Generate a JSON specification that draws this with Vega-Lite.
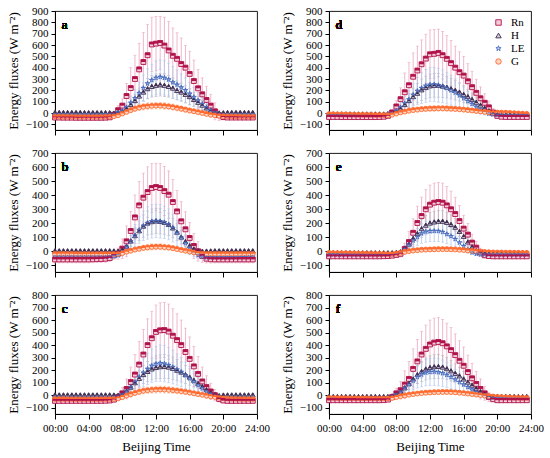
{
  "$schema": "https://vega.github.io/schema/vega-lite/v6.json",
  "background": "white",
  "padding": {"left": 6, "top": 4, "right": 5, "bottom": 5},
  "config": {
    "font": "Liberation Serif",
    "view": {"stroke": "black", "strokeWidth": 0.9},
    "text": {"font": "Liberation Serif"},
    "axis": {"grid": false, "domainColor": "black", "tickColor": "black", "labelColor": "black", "titleColor": "black", "labelFont": "Liberation Serif", "titleFont": "Liberation Serif", "labelFontSize": 11, "titleFontSize": 13, "titleFontWeight": "normal", "labelFontWeight": "normal", "tickSize": 4, "labelPadding": 3, "labelOverlap": false, "labelFlush": false},
    "axisY": {"titlePadding": 5, "labelOverlap": false, "tickCount": 20},
    "legend": {"labelFont": "Liberation Serif", "labelFontSize": 11, "symbolSize": 30, "padding": 0, "offset": 6, "rowPadding": 1, "labelOffset": 7, "symbolStrokeWidth": 0.9}
  },
  "datasets": {
    "a": [
      {"t":0,"Rn":-40,"Rs":15,"H":5,"Hs":8,"LE":-15,"Ls":10,"G":-30,"Gs":10},
      {"t":0.5,"Rn":-40,"Rs":15,"H":5,"Hs":8,"LE":-15,"Ls":10,"G":-30,"Gs":10},
      {"t":1,"Rn":-41,"Rs":15,"H":5,"Hs":8,"LE":-15,"Ls":10,"G":-31,"Gs":10},
      {"t":1.5,"Rn":-41,"Rs":15,"H":5,"Hs":8,"LE":-15,"Ls":10,"G":-31,"Gs":10},
      {"t":2,"Rn":-41,"Rs":15,"H":5,"Hs":8,"LE":-15,"Ls":10,"G":-31,"Gs":10},
      {"t":2.5,"Rn":-42,"Rs":15,"H":5,"Hs":8,"LE":-16,"Ls":10,"G":-32,"Gs":10},
      {"t":3,"Rn":-42,"Rs":15,"H":5,"Hs":8,"LE":-16,"Ls":10,"G":-32,"Gs":10},
      {"t":3.5,"Rn":-42,"Rs":15,"H":4,"Hs":8,"LE":-16,"Ls":10,"G":-32,"Gs":10},
      {"t":4,"Rn":-42,"Rs":15,"H":4,"Hs":8,"LE":-16,"Ls":10,"G":-32,"Gs":10},
      {"t":4.5,"Rn":-42,"Rs":15,"H":4,"Hs":8,"LE":-16,"Ls":10,"G":-32,"Gs":10},
      {"t":5,"Rn":-42,"Rs":15,"H":4,"Hs":8,"LE":-16,"Ls":10,"G":-32,"Gs":10},
      {"t":5.5,"Rn":-42,"Rs":15,"H":4,"Hs":8,"LE":-16,"Ls":10,"G":-32,"Gs":10},
      {"t":6,"Rn":-41,"Rs":16,"H":4,"Hs":8,"LE":-15,"Ls":10,"G":-31,"Gs":10},
      {"t":6.5,"Rn":-38,"Rs":18,"H":3,"Hs":8,"LE":-14,"Ls":10,"G":-30,"Gs":10},
      {"t":7,"Rn":-15,"Rs":25,"H":0,"Hs":10,"LE":-10,"Ls":12,"G":-28,"Gs":10},
      {"t":7.5,"Rn":25,"Rs":40,"H":5,"Hs":14,"LE":5,"Ls":15,"G":-20,"Gs":12},
      {"t":8,"Rn":65,"Rs":60,"H":15,"Hs":20,"LE":20,"Ls":25,"G":-5,"Gs":15},
      {"t":8.5,"Rn":150,"Rs":110,"H":40,"Hs":30,"LE":50,"Ls":40,"G":10,"Gs":18},
      {"t":9,"Rn":220,"Rs":180,"H":75,"Hs":45,"LE":90,"Ls":60,"G":25,"Gs":22},
      {"t":9.5,"Rn":300,"Rs":210,"H":110,"Hs":55,"LE":130,"Ls":80,"G":38,"Gs":25},
      {"t":10,"Rn":385,"Rs":230,"H":150,"Hs":70,"LE":175,"Ls":100,"G":48,"Gs":28},
      {"t":10.5,"Rn":450,"Rs":260,"H":185,"Hs":80,"LE":220,"Ls":115,"G":55,"Gs":29},
      {"t":11,"Rn":510,"Rs":270,"H":215,"Hs":90,"LE":260,"Ls":130,"G":60,"Gs":30},
      {"t":11.5,"Rn":605,"Rs":240,"H":235,"Hs":95,"LE":290,"Ls":140,"G":63,"Gs":30},
      {"t":12,"Rn":612,"Rs":240,"H":245,"Hs":100,"LE":310,"Ls":150,"G":65,"Gs":30},
      {"t":12.5,"Rn":618,"Rs":235,"H":250,"Hs":100,"LE":318,"Ls":150,"G":65,"Gs":30},
      {"t":13,"Rn":595,"Rs":250,"H":245,"Hs":100,"LE":310,"Ls":150,"G":62,"Gs":30},
      {"t":13.5,"Rn":552,"Rs":255,"H":235,"Hs":95,"LE":295,"Ls":145,"G":58,"Gs":29},
      {"t":14,"Rn":505,"Rs":245,"H":220,"Hs":90,"LE":270,"Ls":140,"G":52,"Gs":28},
      {"t":14.5,"Rn":478,"Rs":230,"H":200,"Hs":85,"LE":250,"Ls":130,"G":45,"Gs":27},
      {"t":15,"Rn":432,"Rs":230,"H":185,"Hs":80,"LE":225,"Ls":120,"G":38,"Gs":25},
      {"t":15.5,"Rn":400,"Rs":195,"H":165,"Hs":75,"LE":200,"Ls":110,"G":30,"Gs":24},
      {"t":16,"Rn":345,"Rs":200,"H":145,"Hs":70,"LE":170,"Ls":100,"G":22,"Gs":22},
      {"t":16.5,"Rn":282,"Rs":185,"H":120,"Hs":60,"LE":140,"Ls":85,"G":15,"Gs":20},
      {"t":17,"Rn":218,"Rs":165,"H":95,"Hs":50,"LE":110,"Ls":70,"G":8,"Gs":18},
      {"t":17.5,"Rn":165,"Rs":145,"H":70,"Hs":40,"LE":80,"Ls":55,"G":0,"Gs":17},
      {"t":18,"Rn":115,"Rs":120,"H":45,"Hs":30,"LE":50,"Ls":40,"G":-8,"Gs":15},
      {"t":18.5,"Rn":65,"Rs":100,"H":25,"Hs":25,"LE":25,"Ls":30,"G":-15,"Gs":13},
      {"t":19,"Rn":15,"Rs":75,"H":8,"Hs":15,"LE":5,"Ls":20,"G":-20,"Gs":12},
      {"t":19.5,"Rn":-20,"Rs":45,"H":0,"Hs":10,"LE":-10,"Ls":12,"G":-24,"Gs":11},
      {"t":20,"Rn":-36,"Rs":25,"H":3,"Hs":8,"LE":-14,"Ls":10,"G":-27,"Gs":10},
      {"t":20.5,"Rn":-40,"Rs":18,"H":5,"Hs":8,"LE":-15,"Ls":10,"G":-28,"Gs":10},
      {"t":21,"Rn":-40,"Rs":15,"H":5,"Hs":8,"LE":-15,"Ls":10,"G":-29,"Gs":10},
      {"t":21.5,"Rn":-40,"Rs":15,"H":5,"Hs":8,"LE":-15,"Ls":10,"G":-29,"Gs":10},
      {"t":22,"Rn":-40,"Rs":15,"H":5,"Hs":8,"LE":-15,"Ls":10,"G":-30,"Gs":10},
      {"t":22.5,"Rn":-40,"Rs":15,"H":5,"Hs":8,"LE":-15,"Ls":10,"G":-30,"Gs":10},
      {"t":23,"Rn":-40,"Rs":15,"H":5,"Hs":8,"LE":-15,"Ls":10,"G":-30,"Gs":10},
      {"t":23.5,"Rn":-40,"Rs":15,"H":5,"Hs":8,"LE":-15,"Ls":10,"G":-30,"Gs":10}
    ],
    "d": [
      {"t":0,"Rn":-35,"Rs":12,"H":-8,"Hs":8,"LE":-15,"Ls":10,"G":-10,"Gs":8},
      {"t":0.5,"Rn":-35,"Rs":12,"H":-8,"Hs":8,"LE":-15,"Ls":10,"G":-11,"Gs":8},
      {"t":1,"Rn":-35,"Rs":12,"H":-8,"Hs":8,"LE":-15,"Ls":10,"G":-12,"Gs":8},
      {"t":1.5,"Rn":-36,"Rs":12,"H":-8,"Hs":8,"LE":-15,"Ls":10,"G":-12,"Gs":8},
      {"t":2,"Rn":-36,"Rs":12,"H":-8,"Hs":8,"LE":-15,"Ls":10,"G":-13,"Gs":8},
      {"t":2.5,"Rn":-36,"Rs":12,"H":-8,"Hs":8,"LE":-16,"Ls":10,"G":-14,"Gs":8},
      {"t":3,"Rn":-36,"Rs":12,"H":-8,"Hs":8,"LE":-16,"Ls":10,"G":-14,"Gs":8},
      {"t":3.5,"Rn":-36,"Rs":12,"H":-8,"Hs":8,"LE":-16,"Ls":10,"G":-15,"Gs":8},
      {"t":4,"Rn":-36,"Rs":12,"H":-8,"Hs":8,"LE":-16,"Ls":10,"G":-15,"Gs":8},
      {"t":4.5,"Rn":-36,"Rs":12,"H":-8,"Hs":8,"LE":-16,"Ls":10,"G":-16,"Gs":8},
      {"t":5,"Rn":-36,"Rs":12,"H":-8,"Hs":8,"LE":-16,"Ls":10,"G":-16,"Gs":8},
      {"t":5.5,"Rn":-36,"Rs":12,"H":-8,"Hs":8,"LE":-16,"Ls":10,"G":-17,"Gs":8},
      {"t":6,"Rn":-35,"Rs":13,"H":-8,"Hs":8,"LE":-15,"Ls":10,"G":-17,"Gs":8},
      {"t":6.5,"Rn":-33,"Rs":15,"H":-8,"Hs":8,"LE":-14,"Ls":10,"G":-18,"Gs":8},
      {"t":7,"Rn":-25,"Rs":18,"H":-6,"Hs":9,"LE":-8,"Ls":11,"G":-18,"Gs":8},
      {"t":7.5,"Rn":5,"Rs":25,"H":0,"Hs":12,"LE":0,"Ls":14,"G":-15,"Gs":10},
      {"t":8,"Rn":58,"Rs":50,"H":15,"Hs":20,"LE":20,"Ls":25,"G":-5,"Gs":12},
      {"t":8.5,"Rn":122,"Rs":100,"H":40,"Hs":30,"LE":50,"Ls":40,"G":5,"Gs":14},
      {"t":9,"Rn":183,"Rs":170,"H":75,"Hs":45,"LE":85,"Ls":60,"G":12,"Gs":16},
      {"t":9.5,"Rn":245,"Rs":200,"H":110,"Hs":60,"LE":120,"Ls":80,"G":20,"Gs":18},
      {"t":10,"Rn":320,"Rs":210,"H":145,"Hs":75,"LE":160,"Ls":100,"G":26,"Gs":20},
      {"t":10.5,"Rn":375,"Rs":215,"H":175,"Hs":85,"LE":195,"Ls":120,"G":30,"Gs":21},
      {"t":11,"Rn":430,"Rs":215,"H":205,"Hs":95,"LE":220,"Ls":135,"G":34,"Gs":22},
      {"t":11.5,"Rn":480,"Rs":215,"H":225,"Hs":100,"LE":240,"Ls":145,"G":37,"Gs":23},
      {"t":12,"Rn":518,"Rs":215,"H":240,"Hs":105,"LE":250,"Ls":150,"G":39,"Gs":24},
      {"t":12.5,"Rn":522,"Rs":215,"H":245,"Hs":105,"LE":252,"Ls":150,"G":40,"Gs":24},
      {"t":13,"Rn":530,"Rs":210,"H":245,"Hs":105,"LE":245,"Ls":150,"G":41,"Gs":24},
      {"t":13.5,"Rn":510,"Rs":210,"H":238,"Hs":100,"LE":235,"Ls":145,"G":41,"Gs":24},
      {"t":14,"Rn":478,"Rs":205,"H":228,"Hs":95,"LE":220,"Ls":140,"G":40,"Gs":24},
      {"t":14.5,"Rn":440,"Rs":200,"H":215,"Hs":90,"LE":200,"Ls":130,"G":38,"Gs":23},
      {"t":15,"Rn":400,"Rs":190,"H":200,"Hs":85,"LE":180,"Ls":120,"G":36,"Gs":22},
      {"t":15.5,"Rn":360,"Rs":180,"H":185,"Hs":80,"LE":155,"Ls":110,"G":33,"Gs":21},
      {"t":16,"Rn":330,"Rs":170,"H":165,"Hs":75,"LE":130,"Ls":100,"G":30,"Gs":20},
      {"t":16.5,"Rn":280,"Rs":155,"H":145,"Hs":65,"LE":105,"Ls":85,"G":26,"Gs":19},
      {"t":17,"Rn":228,"Rs":140,"H":120,"Hs":55,"LE":80,"Ls":70,"G":22,"Gs":18},
      {"t":17.5,"Rn":178,"Rs":120,"H":95,"Hs":45,"LE":55,"Ls":55,"G":18,"Gs":16},
      {"t":18,"Rn":130,"Rs":100,"H":70,"Hs":35,"LE":30,"Ls":40,"G":14,"Gs":14},
      {"t":18.5,"Rn":90,"Rs":80,"H":45,"Hs":28,"LE":10,"Ls":28,"G":10,"Gs":12},
      {"t":19,"Rn":50,"Rs":55,"H":20,"Hs":20,"LE":-5,"Ls":18,"G":6,"Gs":11},
      {"t":19.5,"Rn":5,"Rs":35,"H":0,"Hs":12,"LE":-12,"Ls":12,"G":4,"Gs":10},
      {"t":20,"Rn":-25,"Rs":20,"H":-8,"Hs":9,"LE":-15,"Ls":10,"G":4,"Gs":9},
      {"t":20.5,"Rn":-33,"Rs":14,"H":-8,"Hs":8,"LE":-15,"Ls":10,"G":3,"Gs":8},
      {"t":21,"Rn":-35,"Rs":12,"H":-8,"Hs":8,"LE":-15,"Ls":10,"G":2,"Gs":8},
      {"t":21.5,"Rn":-35,"Rs":12,"H":-8,"Hs":8,"LE":-15,"Ls":10,"G":0,"Gs":8},
      {"t":22,"Rn":-35,"Rs":12,"H":-8,"Hs":8,"LE":-15,"Ls":10,"G":-2,"Gs":8},
      {"t":22.5,"Rn":-35,"Rs":12,"H":-8,"Hs":8,"LE":-15,"Ls":10,"G":-4,"Gs":8},
      {"t":23,"Rn":-35,"Rs":12,"H":-8,"Hs":8,"LE":-15,"Ls":10,"G":-6,"Gs":8},
      {"t":23.5,"Rn":-35,"Rs":12,"H":-8,"Hs":8,"LE":-15,"Ls":10,"G":-8,"Gs":8}
    ],
    "b": [
      {"t":0,"Rn":-60,"Rs":25,"H":2,"Hs":8,"LE":-40,"Ls":12,"G":-20,"Gs":8},
      {"t":0.5,"Rn":-60,"Rs":25,"H":2,"Hs":8,"LE":-40,"Ls":12,"G":-20,"Gs":8},
      {"t":1,"Rn":-60,"Rs":25,"H":2,"Hs":8,"LE":-40,"Ls":12,"G":-20,"Gs":8},
      {"t":1.5,"Rn":-60,"Rs":25,"H":2,"Hs":8,"LE":-40,"Ls":12,"G":-20,"Gs":8},
      {"t":2,"Rn":-60,"Rs":25,"H":2,"Hs":8,"LE":-40,"Ls":12,"G":-20,"Gs":8},
      {"t":2.5,"Rn":-60,"Rs":25,"H":2,"Hs":8,"LE":-40,"Ls":12,"G":-21,"Gs":8},
      {"t":3,"Rn":-60,"Rs":25,"H":2,"Hs":8,"LE":-40,"Ls":12,"G":-21,"Gs":8},
      {"t":3.5,"Rn":-60,"Rs":25,"H":2,"Hs":8,"LE":-40,"Ls":12,"G":-21,"Gs":8},
      {"t":4,"Rn":-60,"Rs":25,"H":2,"Hs":8,"LE":-40,"Ls":12,"G":-21,"Gs":8},
      {"t":4.5,"Rn":-59,"Rs":25,"H":2,"Hs":8,"LE":-40,"Ls":12,"G":-21,"Gs":8},
      {"t":5,"Rn":-58,"Rs":25,"H":2,"Hs":8,"LE":-40,"Ls":12,"G":-21,"Gs":8},
      {"t":5.5,"Rn":-57,"Rs":25,"H":2,"Hs":8,"LE":-40,"Ls":12,"G":-21,"Gs":8},
      {"t":6,"Rn":-55,"Rs":25,"H":2,"Hs":8,"LE":-40,"Ls":12,"G":-21,"Gs":8},
      {"t":6.5,"Rn":-50,"Rs":25,"H":2,"Hs":8,"LE":-39,"Ls":12,"G":-21,"Gs":8},
      {"t":7,"Rn":-31,"Rs":28,"H":1,"Hs":9,"LE":-36,"Ls":13,"G":-21,"Gs":8},
      {"t":7.5,"Rn":-19,"Rs":40,"H":0,"Hs":10,"LE":-30,"Ls":15,"G":-20,"Gs":9},
      {"t":8,"Rn":17,"Rs":70,"H":10,"Hs":15,"LE":-10,"Ls":25,"G":-15,"Gs":10},
      {"t":8.5,"Rn":69,"Rs":110,"H":35,"Hs":25,"LE":30,"Ls":40,"G":-5,"Gs":12},
      {"t":9,"Rn":143,"Rs":140,"H":72,"Hs":40,"LE":70,"Ls":60,"G":2,"Gs":14},
      {"t":9.5,"Rn":240,"Rs":160,"H":110,"Hs":55,"LE":110,"Ls":80,"G":10,"Gs":16},
      {"t":10,"Rn":326,"Rs":170,"H":145,"Hs":70,"LE":150,"Ls":95,"G":16,"Gs":18},
      {"t":10.5,"Rn":381,"Rs":175,"H":178,"Hs":80,"LE":180,"Ls":105,"G":22,"Gs":20},
      {"t":11,"Rn":421,"Rs":180,"H":200,"Hs":85,"LE":200,"Ls":115,"G":26,"Gs":21},
      {"t":11.5,"Rn":450,"Rs":175,"H":210,"Hs":90,"LE":212,"Ls":120,"G":29,"Gs":22},
      {"t":12,"Rn":457,"Rs":170,"H":215,"Hs":90,"LE":215,"Ls":120,"G":30,"Gs":22},
      {"t":12.5,"Rn":450,"Rs":175,"H":212,"Hs":90,"LE":212,"Ls":120,"G":30,"Gs":22},
      {"t":13,"Rn":428,"Rs":175,"H":205,"Hs":85,"LE":205,"Ls":115,"G":28,"Gs":21},
      {"t":13.5,"Rn":402,"Rs":170,"H":190,"Hs":80,"LE":190,"Ls":110,"G":25,"Gs":20},
      {"t":14,"Rn":350,"Rs":160,"H":165,"Hs":70,"LE":165,"Ls":100,"G":20,"Gs":19},
      {"t":14.5,"Rn":283,"Rs":150,"H":135,"Hs":60,"LE":130,"Ls":90,"G":14,"Gs":17},
      {"t":15,"Rn":212,"Rs":140,"H":100,"Hs":50,"LE":95,"Ls":75,"G":8,"Gs":15},
      {"t":15.5,"Rn":155,"Rs":125,"H":68,"Hs":40,"LE":55,"Ls":60,"G":2,"Gs":13},
      {"t":16,"Rn":93,"Rs":110,"H":38,"Hs":30,"LE":20,"Ls":45,"G":-4,"Gs":12},
      {"t":16.5,"Rn":36,"Rs":90,"H":15,"Hs":20,"LE":-10,"Ls":30,"G":-10,"Gs":10},
      {"t":17,"Rn":-2,"Rs":70,"H":2,"Hs":12,"LE":-30,"Ls":20,"G":-15,"Gs":9},
      {"t":17.5,"Rn":-36,"Rs":45,"H":-2,"Hs":10,"LE":-40,"Ls":15,"G":-18,"Gs":8},
      {"t":18,"Rn":-55,"Rs":30,"H":0,"Hs":8,"LE":-45,"Ls":13,"G":-20,"Gs":8},
      {"t":18.5,"Rn":-59,"Rs":27,"H":1,"Hs":8,"LE":-45,"Ls":12,"G":-20,"Gs":8},
      {"t":19,"Rn":-60,"Rs":25,"H":2,"Hs":8,"LE":-45,"Ls":12,"G":-20,"Gs":8},
      {"t":19.5,"Rn":-60,"Rs":25,"H":2,"Hs":8,"LE":-45,"Ls":12,"G":-20,"Gs":8},
      {"t":20,"Rn":-60,"Rs":25,"H":2,"Hs":8,"LE":-45,"Ls":12,"G":-20,"Gs":8},
      {"t":20.5,"Rn":-60,"Rs":25,"H":2,"Hs":8,"LE":-45,"Ls":12,"G":-20,"Gs":8},
      {"t":21,"Rn":-60,"Rs":25,"H":2,"Hs":8,"LE":-45,"Ls":12,"G":-20,"Gs":8},
      {"t":21.5,"Rn":-60,"Rs":25,"H":2,"Hs":8,"LE":-44,"Ls":12,"G":-20,"Gs":8},
      {"t":22,"Rn":-60,"Rs":25,"H":2,"Hs":8,"LE":-43,"Ls":12,"G":-20,"Gs":8},
      {"t":22.5,"Rn":-60,"Rs":25,"H":2,"Hs":8,"LE":-42,"Ls":12,"G":-20,"Gs":8},
      {"t":23,"Rn":-60,"Rs":25,"H":2,"Hs":8,"LE":-41,"Ls":12,"G":-20,"Gs":8},
      {"t":23.5,"Rn":-60,"Rs":25,"H":2,"Hs":8,"LE":-40,"Ls":12,"G":-20,"Gs":8}
    ],
    "e": [
      {"t":0,"Rn":-38,"Rs":12,"H":-12,"Hs":8,"LE":-25,"Ls":10,"G":-14,"Gs":8},
      {"t":0.5,"Rn":-38,"Rs":12,"H":-12,"Hs":8,"LE":-25,"Ls":10,"G":-15,"Gs":8},
      {"t":1,"Rn":-38,"Rs":12,"H":-12,"Hs":8,"LE":-25,"Ls":10,"G":-15,"Gs":8},
      {"t":1.5,"Rn":-38,"Rs":12,"H":-12,"Hs":8,"LE":-25,"Ls":10,"G":-16,"Gs":8},
      {"t":2,"Rn":-38,"Rs":12,"H":-12,"Hs":8,"LE":-25,"Ls":10,"G":-16,"Gs":8},
      {"t":2.5,"Rn":-38,"Rs":12,"H":-12,"Hs":8,"LE":-25,"Ls":10,"G":-17,"Gs":8},
      {"t":3,"Rn":-38,"Rs":12,"H":-12,"Hs":8,"LE":-25,"Ls":10,"G":-17,"Gs":8},
      {"t":3.5,"Rn":-38,"Rs":12,"H":-12,"Hs":8,"LE":-25,"Ls":10,"G":-18,"Gs":8},
      {"t":4,"Rn":-38,"Rs":12,"H":-12,"Hs":8,"LE":-25,"Ls":10,"G":-18,"Gs":8},
      {"t":4.5,"Rn":-38,"Rs":12,"H":-12,"Hs":8,"LE":-25,"Ls":10,"G":-19,"Gs":8},
      {"t":5,"Rn":-38,"Rs":12,"H":-12,"Hs":8,"LE":-25,"Ls":10,"G":-19,"Gs":8},
      {"t":5.5,"Rn":-38,"Rs":12,"H":-12,"Hs":8,"LE":-25,"Ls":10,"G":-20,"Gs":8},
      {"t":6,"Rn":-38,"Rs":12,"H":-12,"Hs":8,"LE":-25,"Ls":10,"G":-20,"Gs":8},
      {"t":6.5,"Rn":-37,"Rs":13,"H":-12,"Hs":8,"LE":-25,"Ls":10,"G":-21,"Gs":8},
      {"t":7,"Rn":-36,"Rs":14,"H":-12,"Hs":8,"LE":-25,"Ls":10,"G":-22,"Gs":8},
      {"t":7.5,"Rn":-33,"Rs":16,"H":-12,"Hs":8,"LE":-24,"Ls":10,"G":-22,"Gs":8},
      {"t":8,"Rn":-28,"Rs":18,"H":-10,"Hs":9,"LE":-22,"Ls":11,"G":-18,"Gs":9},
      {"t":8.5,"Rn":-20,"Rs":22,"H":-5,"Hs":10,"LE":-10,"Ls":12,"G":-12,"Gs":10},
      {"t":9,"Rn":15,"Rs":40,"H":20,"Hs":18,"LE":15,"Ls":20,"G":-6,"Gs":11},
      {"t":9.5,"Rn":64,"Rs":75,"H":50,"Hs":30,"LE":45,"Ls":35,"G":-1,"Gs":12},
      {"t":10,"Rn":130,"Rs":100,"H":90,"Hs":45,"LE":75,"Ls":50,"G":3,"Gs":13},
      {"t":10.5,"Rn":200,"Rs":120,"H":125,"Hs":55,"LE":100,"Ls":60,"G":6,"Gs":14},
      {"t":11,"Rn":250,"Rs":135,"H":160,"Hs":65,"LE":125,"Ls":70,"G":9,"Gs":14},
      {"t":11.5,"Rn":298,"Rs":140,"H":185,"Hs":70,"LE":138,"Ls":75,"G":10,"Gs":15},
      {"t":12,"Rn":331,"Rs":140,"H":200,"Hs":75,"LE":142,"Ls":75,"G":11,"Gs":15},
      {"t":12.5,"Rn":345,"Rs":140,"H":208,"Hs":75,"LE":143,"Ls":75,"G":12,"Gs":15},
      {"t":13,"Rn":350,"Rs":140,"H":213,"Hs":75,"LE":142,"Ls":75,"G":13,"Gs":15},
      {"t":13.5,"Rn":345,"Rs":140,"H":213,"Hs":75,"LE":135,"Ls":72,"G":13,"Gs":15},
      {"t":14,"Rn":326,"Rs":135,"H":205,"Hs":72,"LE":120,"Ls":68,"G":13,"Gs":15},
      {"t":14.5,"Rn":298,"Rs":130,"H":190,"Hs":68,"LE":105,"Ls":62,"G":12,"Gs":14},
      {"t":15,"Rn":264,"Rs":120,"H":170,"Hs":62,"LE":85,"Ls":55,"G":11,"Gs":14},
      {"t":15.5,"Rn":214,"Rs":110,"H":140,"Hs":55,"LE":60,"Ls":45,"G":9,"Gs":13},
      {"t":16,"Rn":160,"Rs":95,"H":105,"Hs":45,"LE":35,"Ls":35,"G":7,"Gs":12},
      {"t":16.5,"Rn":117,"Rs":80,"H":65,"Hs":35,"LE":10,"Ls":25,"G":4,"Gs":11},
      {"t":17,"Rn":60,"Rs":60,"H":30,"Hs":22,"LE":-10,"Ls":15,"G":1,"Gs":10},
      {"t":17.5,"Rn":24,"Rs":45,"H":5,"Hs":14,"LE":-20,"Ls":12,"G":-2,"Gs":9},
      {"t":18,"Rn":-10,"Rs":30,"H":-8,"Hs":10,"LE":-25,"Ls":10,"G":-5,"Gs":9},
      {"t":18.5,"Rn":-30,"Rs":20,"H":-12,"Hs":8,"LE":-25,"Ls":10,"G":-7,"Gs":8},
      {"t":19,"Rn":-36,"Rs":14,"H":-12,"Hs":8,"LE":-25,"Ls":10,"G":-9,"Gs":8},
      {"t":19.5,"Rn":-38,"Rs":12,"H":-12,"Hs":8,"LE":-25,"Ls":10,"G":-10,"Gs":8},
      {"t":20,"Rn":-38,"Rs":12,"H":-12,"Hs":8,"LE":-25,"Ls":10,"G":-11,"Gs":8},
      {"t":20.5,"Rn":-38,"Rs":12,"H":-12,"Hs":8,"LE":-25,"Ls":10,"G":-11,"Gs":8},
      {"t":21,"Rn":-38,"Rs":12,"H":-12,"Hs":8,"LE":-25,"Ls":10,"G":-12,"Gs":8},
      {"t":21.5,"Rn":-38,"Rs":12,"H":-12,"Hs":8,"LE":-25,"Ls":10,"G":-12,"Gs":8},
      {"t":22,"Rn":-38,"Rs":12,"H":-12,"Hs":8,"LE":-25,"Ls":10,"G":-13,"Gs":8},
      {"t":22.5,"Rn":-38,"Rs":12,"H":-12,"Hs":8,"LE":-25,"Ls":10,"G":-13,"Gs":8},
      {"t":23,"Rn":-38,"Rs":12,"H":-12,"Hs":8,"LE":-25,"Ls":10,"G":-14,"Gs":8},
      {"t":23.5,"Rn":-38,"Rs":12,"H":-12,"Hs":8,"LE":-25,"Ls":10,"G":-14,"Gs":8}
    ],
    "c": [
      {"t":0,"Rn":-45,"Rs":15,"H":3,"Hs":8,"LE":-20,"Ls":10,"G":-30,"Gs":10},
      {"t":0.5,"Rn":-45,"Rs":15,"H":3,"Hs":8,"LE":-20,"Ls":10,"G":-30,"Gs":10},
      {"t":1,"Rn":-45,"Rs":15,"H":3,"Hs":8,"LE":-20,"Ls":10,"G":-30,"Gs":10},
      {"t":1.5,"Rn":-45,"Rs":15,"H":3,"Hs":8,"LE":-20,"Ls":10,"G":-30,"Gs":10},
      {"t":2,"Rn":-45,"Rs":15,"H":3,"Hs":8,"LE":-20,"Ls":10,"G":-31,"Gs":10},
      {"t":2.5,"Rn":-45,"Rs":15,"H":3,"Hs":8,"LE":-20,"Ls":10,"G":-31,"Gs":10},
      {"t":3,"Rn":-45,"Rs":15,"H":3,"Hs":8,"LE":-20,"Ls":10,"G":-31,"Gs":10},
      {"t":3.5,"Rn":-45,"Rs":15,"H":3,"Hs":8,"LE":-20,"Ls":10,"G":-31,"Gs":10},
      {"t":4,"Rn":-45,"Rs":15,"H":3,"Hs":8,"LE":-20,"Ls":10,"G":-31,"Gs":10},
      {"t":4.5,"Rn":-45,"Rs":15,"H":3,"Hs":8,"LE":-20,"Ls":10,"G":-31,"Gs":10},
      {"t":5,"Rn":-45,"Rs":15,"H":3,"Hs":8,"LE":-20,"Ls":10,"G":-31,"Gs":10},
      {"t":5.5,"Rn":-45,"Rs":15,"H":3,"Hs":8,"LE":-20,"Ls":10,"G":-31,"Gs":10},
      {"t":6,"Rn":-44,"Rs":15,"H":3,"Hs":8,"LE":-20,"Ls":10,"G":-30,"Gs":10},
      {"t":6.5,"Rn":-42,"Rs":16,"H":3,"Hs":8,"LE":-20,"Ls":10,"G":-30,"Gs":10},
      {"t":7,"Rn":-35,"Rs":18,"H":2,"Hs":9,"LE":-18,"Ls":10,"G":-29,"Gs":10},
      {"t":7.5,"Rn":-15,"Rs":25,"H":0,"Hs":10,"LE":-10,"Ls":12,"G":-25,"Gs":11},
      {"t":8,"Rn":15,"Rs":45,"H":10,"Hs":15,"LE":5,"Ls":18,"G":-15,"Gs":12},
      {"t":8.5,"Rn":50,"Rs":80,"H":35,"Hs":25,"LE":30,"Ls":35,"G":-3,"Gs":14},
      {"t":9,"Rn":105,"Rs":120,"H":65,"Hs":38,"LE":65,"Ls":55,"G":8,"Gs":17},
      {"t":9.5,"Rn":165,"Rs":160,"H":100,"Hs":50,"LE":105,"Ls":75,"G":18,"Gs":20},
      {"t":10,"Rn":245,"Rs":185,"H":135,"Hs":62,"LE":145,"Ls":95,"G":27,"Gs":23},
      {"t":10.5,"Rn":325,"Rs":200,"H":165,"Hs":72,"LE":180,"Ls":110,"G":35,"Gs":25},
      {"t":11,"Rn":400,"Rs":210,"H":190,"Hs":80,"LE":210,"Ls":125,"G":40,"Gs":26},
      {"t":11.5,"Rn":455,"Rs":215,"H":210,"Hs":88,"LE":235,"Ls":135,"G":43,"Gs":27},
      {"t":12,"Rn":505,"Rs":215,"H":222,"Hs":92,"LE":250,"Ls":140,"G":45,"Gs":28},
      {"t":12.5,"Rn":518,"Rs":220,"H":228,"Hs":95,"LE":256,"Ls":145,"G":46,"Gs":28},
      {"t":13,"Rn":520,"Rs":220,"H":230,"Hs":95,"LE":252,"Ls":145,"G":45,"Gs":28},
      {"t":13.5,"Rn":508,"Rs":220,"H":225,"Hs":92,"LE":240,"Ls":140,"G":43,"Gs":27},
      {"t":14,"Rn":475,"Rs":215,"H":215,"Hs":90,"LE":225,"Ls":135,"G":40,"Gs":26},
      {"t":14.5,"Rn":440,"Rs":210,"H":200,"Hs":85,"LE":205,"Ls":125,"G":36,"Gs":25},
      {"t":15,"Rn":400,"Rs":200,"H":185,"Hs":80,"LE":185,"Ls":115,"G":32,"Gs":24},
      {"t":15.5,"Rn":345,"Rs":190,"H":165,"Hs":72,"LE":160,"Ls":105,"G":27,"Gs":22},
      {"t":16,"Rn":290,"Rs":175,"H":145,"Hs":65,"LE":135,"Ls":95,"G":21,"Gs":20},
      {"t":16.5,"Rn":230,"Rs":160,"H":120,"Hs":55,"LE":110,"Ls":80,"G":15,"Gs":18},
      {"t":17,"Rn":170,"Rs":140,"H":95,"Hs":45,"LE":80,"Ls":65,"G":9,"Gs":16},
      {"t":17.5,"Rn":110,"Rs":115,"H":70,"Hs":35,"LE":55,"Ls":50,"G":3,"Gs":14},
      {"t":18,"Rn":65,"Rs":90,"H":45,"Hs":28,"LE":30,"Ls":38,"G":-3,"Gs":13},
      {"t":18.5,"Rn":30,"Rs":65,"H":25,"Hs":20,"LE":10,"Ls":25,"G":-9,"Gs":12},
      {"t":19,"Rn":0,"Rs":45,"H":5,"Hs":14,"LE":-5,"Ls":16,"G":-14,"Gs":11},
      {"t":19.5,"Rn":-30,"Rs":25,"H":-3,"Hs":10,"LE":-15,"Ls":12,"G":-19,"Gs":10},
      {"t":20,"Rn":-42,"Rs":18,"H":2,"Hs":8,"LE":-20,"Ls":10,"G":-23,"Gs":10},
      {"t":20.5,"Rn":-45,"Rs":15,"H":3,"Hs":8,"LE":-20,"Ls":10,"G":-26,"Gs":10},
      {"t":21,"Rn":-45,"Rs":15,"H":3,"Hs":8,"LE":-20,"Ls":10,"G":-28,"Gs":10},
      {"t":21.5,"Rn":-45,"Rs":15,"H":3,"Hs":8,"LE":-20,"Ls":10,"G":-29,"Gs":10},
      {"t":22,"Rn":-45,"Rs":15,"H":3,"Hs":8,"LE":-20,"Ls":10,"G":-29,"Gs":10},
      {"t":22.5,"Rn":-45,"Rs":15,"H":3,"Hs":8,"LE":-20,"Ls":10,"G":-30,"Gs":10},
      {"t":23,"Rn":-45,"Rs":15,"H":3,"Hs":8,"LE":-20,"Ls":10,"G":-30,"Gs":10},
      {"t":23.5,"Rn":-45,"Rs":15,"H":3,"Hs":8,"LE":-20,"Ls":10,"G":-30,"Gs":10}
    ],
    "f": [
      {"t":0,"Rn":-40,"Rs":12,"H":-10,"Hs":8,"LE":-20,"Ls":10,"G":-21,"Gs":8},
      {"t":0.5,"Rn":-40,"Rs":12,"H":-10,"Hs":8,"LE":-20,"Ls":10,"G":-21,"Gs":8},
      {"t":1,"Rn":-40,"Rs":12,"H":-10,"Hs":8,"LE":-20,"Ls":10,"G":-22,"Gs":8},
      {"t":1.5,"Rn":-40,"Rs":12,"H":-10,"Hs":8,"LE":-20,"Ls":10,"G":-22,"Gs":8},
      {"t":2,"Rn":-40,"Rs":12,"H":-10,"Hs":8,"LE":-20,"Ls":10,"G":-23,"Gs":8},
      {"t":2.5,"Rn":-40,"Rs":12,"H":-10,"Hs":8,"LE":-20,"Ls":10,"G":-23,"Gs":8},
      {"t":3,"Rn":-40,"Rs":12,"H":-10,"Hs":8,"LE":-20,"Ls":10,"G":-23,"Gs":8},
      {"t":3.5,"Rn":-40,"Rs":12,"H":-10,"Hs":8,"LE":-20,"Ls":10,"G":-24,"Gs":8},
      {"t":4,"Rn":-40,"Rs":12,"H":-10,"Hs":8,"LE":-20,"Ls":10,"G":-24,"Gs":8},
      {"t":4.5,"Rn":-40,"Rs":12,"H":-10,"Hs":8,"LE":-20,"Ls":10,"G":-24,"Gs":8},
      {"t":5,"Rn":-40,"Rs":12,"H":-10,"Hs":8,"LE":-20,"Ls":10,"G":-25,"Gs":8},
      {"t":5.5,"Rn":-40,"Rs":12,"H":-10,"Hs":8,"LE":-20,"Ls":10,"G":-25,"Gs":8},
      {"t":6,"Rn":-40,"Rs":12,"H":-10,"Hs":8,"LE":-20,"Ls":10,"G":-25,"Gs":8},
      {"t":6.5,"Rn":-39,"Rs":13,"H":-10,"Hs":8,"LE":-20,"Ls":10,"G":-25,"Gs":8},
      {"t":7,"Rn":-35,"Rs":15,"H":-10,"Hs":8,"LE":-18,"Ls":10,"G":-24,"Gs":9},
      {"t":7.5,"Rn":-15,"Rs":20,"H":-5,"Hs":10,"LE":-10,"Ls":12,"G":-22,"Gs":9},
      {"t":8,"Rn":15,"Rs":40,"H":10,"Hs":15,"LE":5,"Ls":18,"G":-15,"Gs":10},
      {"t":8.5,"Rn":40,"Rs":70,"H":30,"Hs":25,"LE":25,"Ls":30,"G":-8,"Gs":11},
      {"t":9,"Rn":85,"Rs":110,"H":60,"Hs":38,"LE":55,"Ls":45,"G":-2,"Gs":12},
      {"t":9.5,"Rn":130,"Rs":140,"H":95,"Hs":50,"LE":85,"Ls":60,"G":4,"Gs":13},
      {"t":10,"Rn":210,"Rs":160,"H":130,"Hs":62,"LE":115,"Ls":75,"G":9,"Gs":14},
      {"t":10.5,"Rn":270,"Rs":175,"H":165,"Hs":72,"LE":145,"Ls":88,"G":13,"Gs":15},
      {"t":11,"Rn":325,"Rs":185,"H":190,"Hs":80,"LE":165,"Ls":98,"G":17,"Gs":16},
      {"t":11.5,"Rn":370,"Rs":190,"H":210,"Hs":88,"LE":180,"Ls":105,"G":20,"Gs":17},
      {"t":12,"Rn":405,"Rs":195,"H":222,"Hs":92,"LE":185,"Ls":108,"G":22,"Gs":18},
      {"t":12.5,"Rn":420,"Rs":195,"H":228,"Hs":95,"LE":187,"Ls":110,"G":24,"Gs":18},
      {"t":13,"Rn":425,"Rs":195,"H":230,"Hs":95,"LE":183,"Ls":108,"G":25,"Gs":18},
      {"t":13.5,"Rn":415,"Rs":190,"H":225,"Hs":92,"LE":175,"Ls":105,"G":26,"Gs":18},
      {"t":14,"Rn":390,"Rs":185,"H":212,"Hs":88,"LE":162,"Ls":100,"G":26,"Gs":18},
      {"t":14.5,"Rn":360,"Rs":180,"H":195,"Hs":82,"LE":145,"Ls":92,"G":25,"Gs":18},
      {"t":15,"Rn":320,"Rs":170,"H":175,"Hs":75,"LE":125,"Ls":82,"G":23,"Gs":17},
      {"t":15.5,"Rn":275,"Rs":160,"H":155,"Hs":68,"LE":105,"Ls":72,"G":20,"Gs":16},
      {"t":16,"Rn":235,"Rs":150,"H":130,"Hs":60,"LE":85,"Ls":62,"G":17,"Gs":15},
      {"t":16.5,"Rn":185,"Rs":135,"H":105,"Hs":50,"LE":65,"Ls":52,"G":13,"Gs":14},
      {"t":17,"Rn":135,"Rs":120,"H":80,"Hs":42,"LE":45,"Ls":42,"G":9,"Gs":13},
      {"t":17.5,"Rn":90,"Rs":100,"H":55,"Hs":32,"LE":25,"Ls":32,"G":5,"Gs":12},
      {"t":18,"Rn":50,"Rs":80,"H":30,"Hs":24,"LE":10,"Ls":24,"G":1,"Gs":11},
      {"t":18.5,"Rn":15,"Rs":55,"H":10,"Hs":16,"LE":-5,"Ls":16,"G":-3,"Gs":10},
      {"t":19,"Rn":-15,"Rs":35,"H":-5,"Hs":10,"LE":-15,"Ls":12,"G":-7,"Gs":9},
      {"t":19.5,"Rn":-32,"Rs":20,"H":-10,"Hs":8,"LE":-20,"Ls":10,"G":-10,"Gs":9},
      {"t":20,"Rn":-40,"Rs":14,"H":-10,"Hs":8,"LE":-20,"Ls":10,"G":-13,"Gs":9},
      {"t":20.5,"Rn":-40,"Rs":12,"H":-10,"Hs":8,"LE":-20,"Ls":10,"G":-15,"Gs":8},
      {"t":21,"Rn":-40,"Rs":12,"H":-10,"Hs":8,"LE":-20,"Ls":10,"G":-17,"Gs":8},
      {"t":21.5,"Rn":-40,"Rs":12,"H":-10,"Hs":8,"LE":-20,"Ls":10,"G":-18,"Gs":8},
      {"t":22,"Rn":-40,"Rs":12,"H":-10,"Hs":8,"LE":-20,"Ls":10,"G":-19,"Gs":8},
      {"t":22.5,"Rn":-40,"Rs":12,"H":-10,"Hs":8,"LE":-20,"Ls":10,"G":-19,"Gs":8},
      {"t":23,"Rn":-40,"Rs":12,"H":-10,"Hs":8,"LE":-20,"Ls":10,"G":-20,"Gs":8},
      {"t":23.5,"Rn":-40,"Rs":12,"H":-10,"Hs":8,"LE":-20,"Ls":10,"G":-20,"Gs":8}
    ]
  },
  "columns": 2,
  "spacing": {"row": 23, "column": 72},
  "bounds": "flush",
  "resolve": {"scale": {"color": "independent", "fill": "independent", "shape": "independent"}, "legend": {"color": "independent", "fill": "independent", "shape": "independent"}},
  "concat": [
    {
      "width": 202, "height": 119,
      "data": {"name": "a"},
      "encoding": {"x": {"field": "t", "type": "quantitative", "scale": {"domain": [0, 24], "nice": false}, "axis": {"values": [0, 4, 8, 12, 16, 20, 24], "tickCount": 20, "labels": false, "title": null, "tickSize": 5}}},
      "layer": [
        {"mark": {"type": "errorbar", "ticks": true, "color": "#EBA5BE", "thickness": 0.8, "size": 3}, "encoding": {"y": {"field": "Rn", "type": "quantitative", "title": "Energy fluxes (W m⁻²)", "scale": {"domain": [-150, 900], "nice": false, "zero": false}, "axis": {"values": [-100, 0, 100, 200, 300, 400, 500, 600, 700, 800, 900], "tickCount": 20, "labelOverlap": false}}, "yError": {"field": "Rs"}}},
        {"mark": {"type": "errorbar", "ticks": true, "color": "#B6B2BC", "thickness": 0.8, "size": 3}, "encoding": {"y": {"field": "H", "type": "quantitative", "title": "Energy fluxes (W m⁻²)"}, "yError": {"field": "Hs"}}},
        {"mark": {"type": "errorbar", "ticks": true, "color": "#B4C6EC", "thickness": 0.8, "size": 3}, "encoding": {"y": {"field": "LE", "type": "quantitative", "title": "Energy fluxes (W m⁻²)"}, "yError": {"field": "Ls"}}},
        {"mark": {"type": "errorbar", "ticks": true, "color": "#FFC3A6", "thickness": 0.8, "size": 3}, "encoding": {"y": {"field": "G", "type": "quantitative", "title": "Energy fluxes (W m⁻²)"}, "yError": {"field": "Gs"}}},
        {"transform": [{"fold": ["Rn", "H", "LE", "G"], "as": ["k", "m"]}],
         "mark": {"type": "point", "filled": false, "size": 24, "strokeWidth": 0.9, "opacity": 1},
         "encoding": {"y": {"field": "m", "type": "quantitative", "title": "Energy fluxes (W m⁻²)"},
          "color": {"field": "k", "type": "nominal", "scale": {"domain": ["Rn", "H", "LE", "G"], "range": ["#B0124A", "#3B2A4F", "#4A6CC0", "#FF6A2E"]}, "legend": null},
          "fill": {"field": "k", "type": "nominal", "scale": {"domain": ["Rn", "H", "LE", "G"], "range": ["#F5CCDA", "#CFCAD6", "#D0DBF2", "#FFD5C2"]}, "legend": null},
          "shape": {"field": "k", "type": "nominal", "scale": {"domain": ["Rn", "H", "LE", "G"], "range": ["square", "M0,-0.866L1,0.866L-1,0.866Z", "M0,-1L0.2245,-0.309L0.951,-0.309L0.363,0.118L0.588,0.809L0,0.382L-0.588,0.809L-0.363,0.118L-0.951,-0.309L-0.2245,-0.309Z", "circle"]}, "legend": null}}},
        {"mark": {"type": "point", "filled": true, "shape": "M-1,-1H1V0H-1Z", "color": "#B0124A", "size": 24, "strokeWidth": 0, "opacity": 1}, "encoding": {"y": {"field": "Rn", "type": "quantitative", "title": "Energy fluxes (W m⁻²)"}}},
        {"mark": {"type": "point", "filled": true, "shape": "M0,-0.866L0.673,0.3L-0.673,0.3Z", "color": "#3B2A4F", "size": 24, "strokeWidth": 0, "opacity": 1}, "encoding": {"y": {"field": "H", "type": "quantitative", "title": "Energy fluxes (W m⁻²)"}}},
        {"mark": {"type": "point", "filled": true, "shape": "M0,-1L0.2245,-0.309L0.951,-0.309L0.526,0L-0.526,0L-0.951,-0.309L-0.2245,-0.309Z", "color": "#4A6CC0", "size": 24, "strokeWidth": 0, "opacity": 1}, "encoding": {"y": {"field": "LE", "type": "quantitative", "title": "Energy fluxes (W m⁻²)"}}},
        {"mark": {"type": "point", "filled": true, "shape": "M-1,0A1,1 0 0,1 1,0Z", "color": "#FF6A2E", "size": 24, "strokeWidth": 0, "opacity": 1}, "encoding": {"y": {"field": "G", "type": "quantitative", "title": "Energy fluxes (W m⁻²)"}}},
        {"mark": {"type": "text", "align": "left", "baseline": "middle", "fontSize": 13, "fontWeight": "normal"}, "encoding": {"x": {"datum": 0.8}, "y": {"datum": 775}, "text": {"value": "a"}}}
      ]
    },
    {
      "width": 202, "height": 119,
      "data": {"name": "d"},
      "encoding": {"x": {"field": "t", "type": "quantitative", "scale": {"domain": [0, 24], "nice": false}, "axis": {"values": [0, 4, 8, 12, 16, 20, 24], "tickCount": 20, "labels": false, "title": null, "tickSize": 5}}},
      "layer": [
        {"mark": {"type": "errorbar", "ticks": true, "color": "#EBA5BE", "thickness": 0.8, "size": 3}, "encoding": {"y": {"field": "Rn", "type": "quantitative", "title": "Energy fluxes (W m⁻²)", "scale": {"domain": [-150, 900], "nice": false, "zero": false}, "axis": {"values": [-100, 0, 100, 200, 300, 400, 500, 600, 700, 800, 900], "tickCount": 20, "labelOverlap": false}}, "yError": {"field": "Rs"}}},
        {"mark": {"type": "errorbar", "ticks": true, "color": "#B6B2BC", "thickness": 0.8, "size": 3}, "encoding": {"y": {"field": "H", "type": "quantitative", "title": "Energy fluxes (W m⁻²)"}, "yError": {"field": "Hs"}}},
        {"mark": {"type": "errorbar", "ticks": true, "color": "#B4C6EC", "thickness": 0.8, "size": 3}, "encoding": {"y": {"field": "LE", "type": "quantitative", "title": "Energy fluxes (W m⁻²)"}, "yError": {"field": "Ls"}}},
        {"mark": {"type": "errorbar", "ticks": true, "color": "#FFC3A6", "thickness": 0.8, "size": 3}, "encoding": {"y": {"field": "G", "type": "quantitative", "title": "Energy fluxes (W m⁻²)"}, "yError": {"field": "Gs"}}},
        {"transform": [{"fold": ["Rn", "H", "LE", "G"], "as": ["k", "m"]}],
         "mark": {"type": "point", "filled": false, "size": 24, "strokeWidth": 0.9, "opacity": 1},
         "encoding": {"y": {"field": "m", "type": "quantitative", "title": "Energy fluxes (W m⁻²)"},
          "color": {"field": "k", "type": "nominal", "title": null, "scale": {"domain": ["Rn", "H", "LE", "G"], "range": ["#B0124A", "#3B2A4F", "#4A6CC0", "#FF6A2E"]}, "legend": {"orient": "top-right"}},
          "fill": {"field": "k", "type": "nominal", "title": null, "scale": {"domain": ["Rn", "H", "LE", "G"], "range": ["#F5CCDA", "#CFCAD6", "#D0DBF2", "#FFD5C2"]}, "legend": {"orient": "top-right"}},
          "shape": {"field": "k", "type": "nominal", "title": null, "scale": {"domain": ["Rn", "H", "LE", "G"], "range": ["square", "M0,-0.866L1,0.866L-1,0.866Z", "M0,-1L0.2245,-0.309L0.951,-0.309L0.363,0.118L0.588,0.809L0,0.382L-0.588,0.809L-0.363,0.118L-0.951,-0.309L-0.2245,-0.309Z", "circle"]}, "legend": {"orient": "top-right"}}}},
        {"mark": {"type": "point", "filled": true, "shape": "M-1,-1H1V0H-1Z", "color": "#B0124A", "size": 24, "strokeWidth": 0, "opacity": 1}, "encoding": {"y": {"field": "Rn", "type": "quantitative", "title": "Energy fluxes (W m⁻²)"}}},
        {"mark": {"type": "point", "filled": true, "shape": "M0,-0.866L0.673,0.3L-0.673,0.3Z", "color": "#3B2A4F", "size": 24, "strokeWidth": 0, "opacity": 1}, "encoding": {"y": {"field": "H", "type": "quantitative", "title": "Energy fluxes (W m⁻²)"}}},
        {"mark": {"type": "point", "filled": true, "shape": "M0,-1L0.2245,-0.309L0.951,-0.309L0.526,0L-0.526,0L-0.951,-0.309L-0.2245,-0.309Z", "color": "#4A6CC0", "size": 24, "strokeWidth": 0, "opacity": 1}, "encoding": {"y": {"field": "LE", "type": "quantitative", "title": "Energy fluxes (W m⁻²)"}}},
        {"mark": {"type": "point", "filled": true, "shape": "M-1,0A1,1 0 0,1 1,0Z", "color": "#FF6A2E", "size": 24, "strokeWidth": 0, "opacity": 1}, "encoding": {"y": {"field": "G", "type": "quantitative", "title": "Energy fluxes (W m⁻²)"}}},
        {"mark": {"type": "text", "align": "left", "baseline": "middle", "fontSize": 13, "fontWeight": "normal"}, "encoding": {"x": {"datum": 0.8}, "y": {"datum": 775}, "text": {"value": "d"}}}
      ]
    },
    {
      "width": 202, "height": 119,
      "data": {"name": "b"},
      "encoding": {"x": {"field": "t", "type": "quantitative", "scale": {"domain": [0, 24], "nice": false}, "axis": {"values": [0, 4, 8, 12, 16, 20, 24], "tickCount": 20, "labels": false, "title": null, "tickSize": 5}}},
      "layer": [
        {"mark": {"type": "errorbar", "ticks": true, "color": "#EBA5BE", "thickness": 0.8, "size": 3}, "encoding": {"y": {"field": "Rn", "type": "quantitative", "title": "Energy fluxes (W m⁻²)", "scale": {"domain": [-150, 700], "nice": false, "zero": false}, "axis": {"values": [-100, 0, 100, 200, 300, 400, 500, 600, 700], "tickCount": 20, "labelOverlap": false}}, "yError": {"field": "Rs"}}},
        {"mark": {"type": "errorbar", "ticks": true, "color": "#B6B2BC", "thickness": 0.8, "size": 3}, "encoding": {"y": {"field": "H", "type": "quantitative", "title": "Energy fluxes (W m⁻²)"}, "yError": {"field": "Hs"}}},
        {"mark": {"type": "errorbar", "ticks": true, "color": "#B4C6EC", "thickness": 0.8, "size": 3}, "encoding": {"y": {"field": "LE", "type": "quantitative", "title": "Energy fluxes (W m⁻²)"}, "yError": {"field": "Ls"}}},
        {"mark": {"type": "errorbar", "ticks": true, "color": "#FFC3A6", "thickness": 0.8, "size": 3}, "encoding": {"y": {"field": "G", "type": "quantitative", "title": "Energy fluxes (W m⁻²)"}, "yError": {"field": "Gs"}}},
        {"transform": [{"fold": ["Rn", "H", "LE", "G"], "as": ["k", "m"]}],
         "mark": {"type": "point", "filled": false, "size": 24, "strokeWidth": 0.9, "opacity": 1},
         "encoding": {"y": {"field": "m", "type": "quantitative", "title": "Energy fluxes (W m⁻²)"},
          "color": {"field": "k", "type": "nominal", "scale": {"domain": ["Rn", "H", "LE", "G"], "range": ["#B0124A", "#3B2A4F", "#4A6CC0", "#FF6A2E"]}, "legend": null},
          "fill": {"field": "k", "type": "nominal", "scale": {"domain": ["Rn", "H", "LE", "G"], "range": ["#F5CCDA", "#CFCAD6", "#D0DBF2", "#FFD5C2"]}, "legend": null},
          "shape": {"field": "k", "type": "nominal", "scale": {"domain": ["Rn", "H", "LE", "G"], "range": ["square", "M0,-0.866L1,0.866L-1,0.866Z", "M0,-1L0.2245,-0.309L0.951,-0.309L0.363,0.118L0.588,0.809L0,0.382L-0.588,0.809L-0.363,0.118L-0.951,-0.309L-0.2245,-0.309Z", "circle"]}, "legend": null}}},
        {"mark": {"type": "point", "filled": true, "shape": "M-1,-1H1V0H-1Z", "color": "#B0124A", "size": 24, "strokeWidth": 0, "opacity": 1}, "encoding": {"y": {"field": "Rn", "type": "quantitative", "title": "Energy fluxes (W m⁻²)"}}},
        {"mark": {"type": "point", "filled": true, "shape": "M0,-0.866L0.673,0.3L-0.673,0.3Z", "color": "#3B2A4F", "size": 24, "strokeWidth": 0, "opacity": 1}, "encoding": {"y": {"field": "H", "type": "quantitative", "title": "Energy fluxes (W m⁻²)"}}},
        {"mark": {"type": "point", "filled": true, "shape": "M0,-1L0.2245,-0.309L0.951,-0.309L0.526,0L-0.526,0L-0.951,-0.309L-0.2245,-0.309Z", "color": "#4A6CC0", "size": 24, "strokeWidth": 0, "opacity": 1}, "encoding": {"y": {"field": "LE", "type": "quantitative", "title": "Energy fluxes (W m⁻²)"}}},
        {"mark": {"type": "point", "filled": true, "shape": "M-1,0A1,1 0 0,1 1,0Z", "color": "#FF6A2E", "size": 24, "strokeWidth": 0, "opacity": 1}, "encoding": {"y": {"field": "G", "type": "quantitative", "title": "Energy fluxes (W m⁻²)"}}},
        {"mark": {"type": "text", "align": "left", "baseline": "middle", "fontSize": 13, "fontWeight": "normal"}, "encoding": {"x": {"datum": 0.8}, "y": {"datum": 598}, "text": {"value": "b"}}}
      ]
    },
    {
      "width": 202, "height": 119,
      "data": {"name": "e"},
      "encoding": {"x": {"field": "t", "type": "quantitative", "scale": {"domain": [0, 24], "nice": false}, "axis": {"values": [0, 4, 8, 12, 16, 20, 24], "tickCount": 20, "labels": false, "title": null, "tickSize": 5}}},
      "layer": [
        {"mark": {"type": "errorbar", "ticks": true, "color": "#EBA5BE", "thickness": 0.8, "size": 3}, "encoding": {"y": {"field": "Rn", "type": "quantitative", "title": "Energy fluxes (W m⁻²)", "scale": {"domain": [-150, 700], "nice": false, "zero": false}, "axis": {"values": [-100, 0, 100, 200, 300, 400, 500, 600, 700], "tickCount": 20, "labelOverlap": false}}, "yError": {"field": "Rs"}}},
        {"mark": {"type": "errorbar", "ticks": true, "color": "#B6B2BC", "thickness": 0.8, "size": 3}, "encoding": {"y": {"field": "H", "type": "quantitative", "title": "Energy fluxes (W m⁻²)"}, "yError": {"field": "Hs"}}},
        {"mark": {"type": "errorbar", "ticks": true, "color": "#B4C6EC", "thickness": 0.8, "size": 3}, "encoding": {"y": {"field": "LE", "type": "quantitative", "title": "Energy fluxes (W m⁻²)"}, "yError": {"field": "Ls"}}},
        {"mark": {"type": "errorbar", "ticks": true, "color": "#FFC3A6", "thickness": 0.8, "size": 3}, "encoding": {"y": {"field": "G", "type": "quantitative", "title": "Energy fluxes (W m⁻²)"}, "yError": {"field": "Gs"}}},
        {"transform": [{"fold": ["Rn", "H", "LE", "G"], "as": ["k", "m"]}],
         "mark": {"type": "point", "filled": false, "size": 24, "strokeWidth": 0.9, "opacity": 1},
         "encoding": {"y": {"field": "m", "type": "quantitative", "title": "Energy fluxes (W m⁻²)"},
          "color": {"field": "k", "type": "nominal", "scale": {"domain": ["Rn", "H", "LE", "G"], "range": ["#B0124A", "#3B2A4F", "#4A6CC0", "#FF6A2E"]}, "legend": null},
          "fill": {"field": "k", "type": "nominal", "scale": {"domain": ["Rn", "H", "LE", "G"], "range": ["#F5CCDA", "#CFCAD6", "#D0DBF2", "#FFD5C2"]}, "legend": null},
          "shape": {"field": "k", "type": "nominal", "scale": {"domain": ["Rn", "H", "LE", "G"], "range": ["square", "M0,-0.866L1,0.866L-1,0.866Z", "M0,-1L0.2245,-0.309L0.951,-0.309L0.363,0.118L0.588,0.809L0,0.382L-0.588,0.809L-0.363,0.118L-0.951,-0.309L-0.2245,-0.309Z", "circle"]}, "legend": null}}},
        {"mark": {"type": "point", "filled": true, "shape": "M-1,-1H1V0H-1Z", "color": "#B0124A", "size": 24, "strokeWidth": 0, "opacity": 1}, "encoding": {"y": {"field": "Rn", "type": "quantitative", "title": "Energy fluxes (W m⁻²)"}}},
        {"mark": {"type": "point", "filled": true, "shape": "M0,-0.866L0.673,0.3L-0.673,0.3Z", "color": "#3B2A4F", "size": 24, "strokeWidth": 0, "opacity": 1}, "encoding": {"y": {"field": "H", "type": "quantitative", "title": "Energy fluxes (W m⁻²)"}}},
        {"mark": {"type": "point", "filled": true, "shape": "M0,-1L0.2245,-0.309L0.951,-0.309L0.526,0L-0.526,0L-0.951,-0.309L-0.2245,-0.309Z", "color": "#4A6CC0", "size": 24, "strokeWidth": 0, "opacity": 1}, "encoding": {"y": {"field": "LE", "type": "quantitative", "title": "Energy fluxes (W m⁻²)"}}},
        {"mark": {"type": "point", "filled": true, "shape": "M-1,0A1,1 0 0,1 1,0Z", "color": "#FF6A2E", "size": 24, "strokeWidth": 0, "opacity": 1}, "encoding": {"y": {"field": "G", "type": "quantitative", "title": "Energy fluxes (W m⁻²)"}}},
        {"mark": {"type": "text", "align": "left", "baseline": "middle", "fontSize": 13, "fontWeight": "normal"}, "encoding": {"x": {"datum": 0.8}, "y": {"datum": 598}, "text": {"value": "e"}}}
      ]
    },
    {
      "width": 202, "height": 119,
      "data": {"name": "c"},
      "encoding": {"x": {"field": "t", "type": "quantitative", "scale": {"domain": [0, 24], "nice": false}, "axis": {"values": [0, 4, 8, 12, 16, 20, 24], "tickCount": 20, "labelExpr": "(datum.value < 10 ? '0' : '') + datum.value + ':00'", "title": "Beijing Time", "tickSize": 5, "titlePadding": 7}}},
      "layer": [
        {"mark": {"type": "errorbar", "ticks": true, "color": "#EBA5BE", "thickness": 0.8, "size": 3}, "encoding": {"y": {"field": "Rn", "type": "quantitative", "title": "Energy fluxes (W m⁻²)", "scale": {"domain": [-150, 800], "nice": false, "zero": false}, "axis": {"values": [-100, 0, 100, 200, 300, 400, 500, 600, 700, 800], "tickCount": 20, "labelOverlap": false}}, "yError": {"field": "Rs"}}},
        {"mark": {"type": "errorbar", "ticks": true, "color": "#B6B2BC", "thickness": 0.8, "size": 3}, "encoding": {"y": {"field": "H", "type": "quantitative", "title": "Energy fluxes (W m⁻²)"}, "yError": {"field": "Hs"}}},
        {"mark": {"type": "errorbar", "ticks": true, "color": "#B4C6EC", "thickness": 0.8, "size": 3}, "encoding": {"y": {"field": "LE", "type": "quantitative", "title": "Energy fluxes (W m⁻²)"}, "yError": {"field": "Ls"}}},
        {"mark": {"type": "errorbar", "ticks": true, "color": "#FFC3A6", "thickness": 0.8, "size": 3}, "encoding": {"y": {"field": "G", "type": "quantitative", "title": "Energy fluxes (W m⁻²)"}, "yError": {"field": "Gs"}}},
        {"transform": [{"fold": ["Rn", "H", "LE", "G"], "as": ["k", "m"]}],
         "mark": {"type": "point", "filled": false, "size": 24, "strokeWidth": 0.9, "opacity": 1},
         "encoding": {"y": {"field": "m", "type": "quantitative", "title": "Energy fluxes (W m⁻²)"},
          "color": {"field": "k", "type": "nominal", "scale": {"domain": ["Rn", "H", "LE", "G"], "range": ["#B0124A", "#3B2A4F", "#4A6CC0", "#FF6A2E"]}, "legend": null},
          "fill": {"field": "k", "type": "nominal", "scale": {"domain": ["Rn", "H", "LE", "G"], "range": ["#F5CCDA", "#CFCAD6", "#D0DBF2", "#FFD5C2"]}, "legend": null},
          "shape": {"field": "k", "type": "nominal", "scale": {"domain": ["Rn", "H", "LE", "G"], "range": ["square", "M0,-0.866L1,0.866L-1,0.866Z", "M0,-1L0.2245,-0.309L0.951,-0.309L0.363,0.118L0.588,0.809L0,0.382L-0.588,0.809L-0.363,0.118L-0.951,-0.309L-0.2245,-0.309Z", "circle"]}, "legend": null}}},
        {"mark": {"type": "point", "filled": true, "shape": "M-1,-1H1V0H-1Z", "color": "#B0124A", "size": 24, "strokeWidth": 0, "opacity": 1}, "encoding": {"y": {"field": "Rn", "type": "quantitative", "title": "Energy fluxes (W m⁻²)"}}},
        {"mark": {"type": "point", "filled": true, "shape": "M0,-0.866L0.673,0.3L-0.673,0.3Z", "color": "#3B2A4F", "size": 24, "strokeWidth": 0, "opacity": 1}, "encoding": {"y": {"field": "H", "type": "quantitative", "title": "Energy fluxes (W m⁻²)"}}},
        {"mark": {"type": "point", "filled": true, "shape": "M0,-1L0.2245,-0.309L0.951,-0.309L0.526,0L-0.526,0L-0.951,-0.309L-0.2245,-0.309Z", "color": "#4A6CC0", "size": 24, "strokeWidth": 0, "opacity": 1}, "encoding": {"y": {"field": "LE", "type": "quantitative", "title": "Energy fluxes (W m⁻²)"}}},
        {"mark": {"type": "point", "filled": true, "shape": "M-1,0A1,1 0 0,1 1,0Z", "color": "#FF6A2E", "size": 24, "strokeWidth": 0, "opacity": 1}, "encoding": {"y": {"field": "G", "type": "quantitative", "title": "Energy fluxes (W m⁻²)"}}},
        {"mark": {"type": "text", "align": "left", "baseline": "middle", "fontSize": 13, "fontWeight": "normal"}, "encoding": {"x": {"datum": 0.8}, "y": {"datum": 688}, "text": {"value": "c"}}}
      ]
    },
    {
      "width": 202, "height": 119,
      "data": {"name": "f"},
      "encoding": {"x": {"field": "t", "type": "quantitative", "scale": {"domain": [0, 24], "nice": false}, "axis": {"values": [0, 4, 8, 12, 16, 20, 24], "tickCount": 20, "labelExpr": "(datum.value < 10 ? '0' : '') + datum.value + ':00'", "title": "Beijing Time", "tickSize": 5, "titlePadding": 7}}},
      "layer": [
        {"mark": {"type": "errorbar", "ticks": true, "color": "#EBA5BE", "thickness": 0.8, "size": 3}, "encoding": {"y": {"field": "Rn", "type": "quantitative", "title": "Energy fluxes (W m⁻²)", "scale": {"domain": [-150, 800], "nice": false, "zero": false}, "axis": {"values": [-100, 0, 100, 200, 300, 400, 500, 600, 700, 800], "tickCount": 20, "labelOverlap": false}}, "yError": {"field": "Rs"}}},
        {"mark": {"type": "errorbar", "ticks": true, "color": "#B6B2BC", "thickness": 0.8, "size": 3}, "encoding": {"y": {"field": "H", "type": "quantitative", "title": "Energy fluxes (W m⁻²)"}, "yError": {"field": "Hs"}}},
        {"mark": {"type": "errorbar", "ticks": true, "color": "#B4C6EC", "thickness": 0.8, "size": 3}, "encoding": {"y": {"field": "LE", "type": "quantitative", "title": "Energy fluxes (W m⁻²)"}, "yError": {"field": "Ls"}}},
        {"mark": {"type": "errorbar", "ticks": true, "color": "#FFC3A6", "thickness": 0.8, "size": 3}, "encoding": {"y": {"field": "G", "type": "quantitative", "title": "Energy fluxes (W m⁻²)"}, "yError": {"field": "Gs"}}},
        {"transform": [{"fold": ["Rn", "H", "LE", "G"], "as": ["k", "m"]}],
         "mark": {"type": "point", "filled": false, "size": 24, "strokeWidth": 0.9, "opacity": 1},
         "encoding": {"y": {"field": "m", "type": "quantitative", "title": "Energy fluxes (W m⁻²)"},
          "color": {"field": "k", "type": "nominal", "scale": {"domain": ["Rn", "H", "LE", "G"], "range": ["#B0124A", "#3B2A4F", "#4A6CC0", "#FF6A2E"]}, "legend": null},
          "fill": {"field": "k", "type": "nominal", "scale": {"domain": ["Rn", "H", "LE", "G"], "range": ["#F5CCDA", "#CFCAD6", "#D0DBF2", "#FFD5C2"]}, "legend": null},
          "shape": {"field": "k", "type": "nominal", "scale": {"domain": ["Rn", "H", "LE", "G"], "range": ["square", "M0,-0.866L1,0.866L-1,0.866Z", "M0,-1L0.2245,-0.309L0.951,-0.309L0.363,0.118L0.588,0.809L0,0.382L-0.588,0.809L-0.363,0.118L-0.951,-0.309L-0.2245,-0.309Z", "circle"]}, "legend": null}}},
        {"mark": {"type": "point", "filled": true, "shape": "M-1,-1H1V0H-1Z", "color": "#B0124A", "size": 24, "strokeWidth": 0, "opacity": 1}, "encoding": {"y": {"field": "Rn", "type": "quantitative", "title": "Energy fluxes (W m⁻²)"}}},
        {"mark": {"type": "point", "filled": true, "shape": "M0,-0.866L0.673,0.3L-0.673,0.3Z", "color": "#3B2A4F", "size": 24, "strokeWidth": 0, "opacity": 1}, "encoding": {"y": {"field": "H", "type": "quantitative", "title": "Energy fluxes (W m⁻²)"}}},
        {"mark": {"type": "point", "filled": true, "shape": "M0,-1L0.2245,-0.309L0.951,-0.309L0.526,0L-0.526,0L-0.951,-0.309L-0.2245,-0.309Z", "color": "#4A6CC0", "size": 24, "strokeWidth": 0, "opacity": 1}, "encoding": {"y": {"field": "LE", "type": "quantitative", "title": "Energy fluxes (W m⁻²)"}}},
        {"mark": {"type": "point", "filled": true, "shape": "M-1,0A1,1 0 0,1 1,0Z", "color": "#FF6A2E", "size": 24, "strokeWidth": 0, "opacity": 1}, "encoding": {"y": {"field": "G", "type": "quantitative", "title": "Energy fluxes (W m⁻²)"}}},
        {"mark": {"type": "text", "align": "left", "baseline": "middle", "fontSize": 13, "fontWeight": "normal"}, "encoding": {"x": {"datum": 0.8}, "y": {"datum": 688}, "text": {"value": "f"}}}
      ]
    }
  ]
}
